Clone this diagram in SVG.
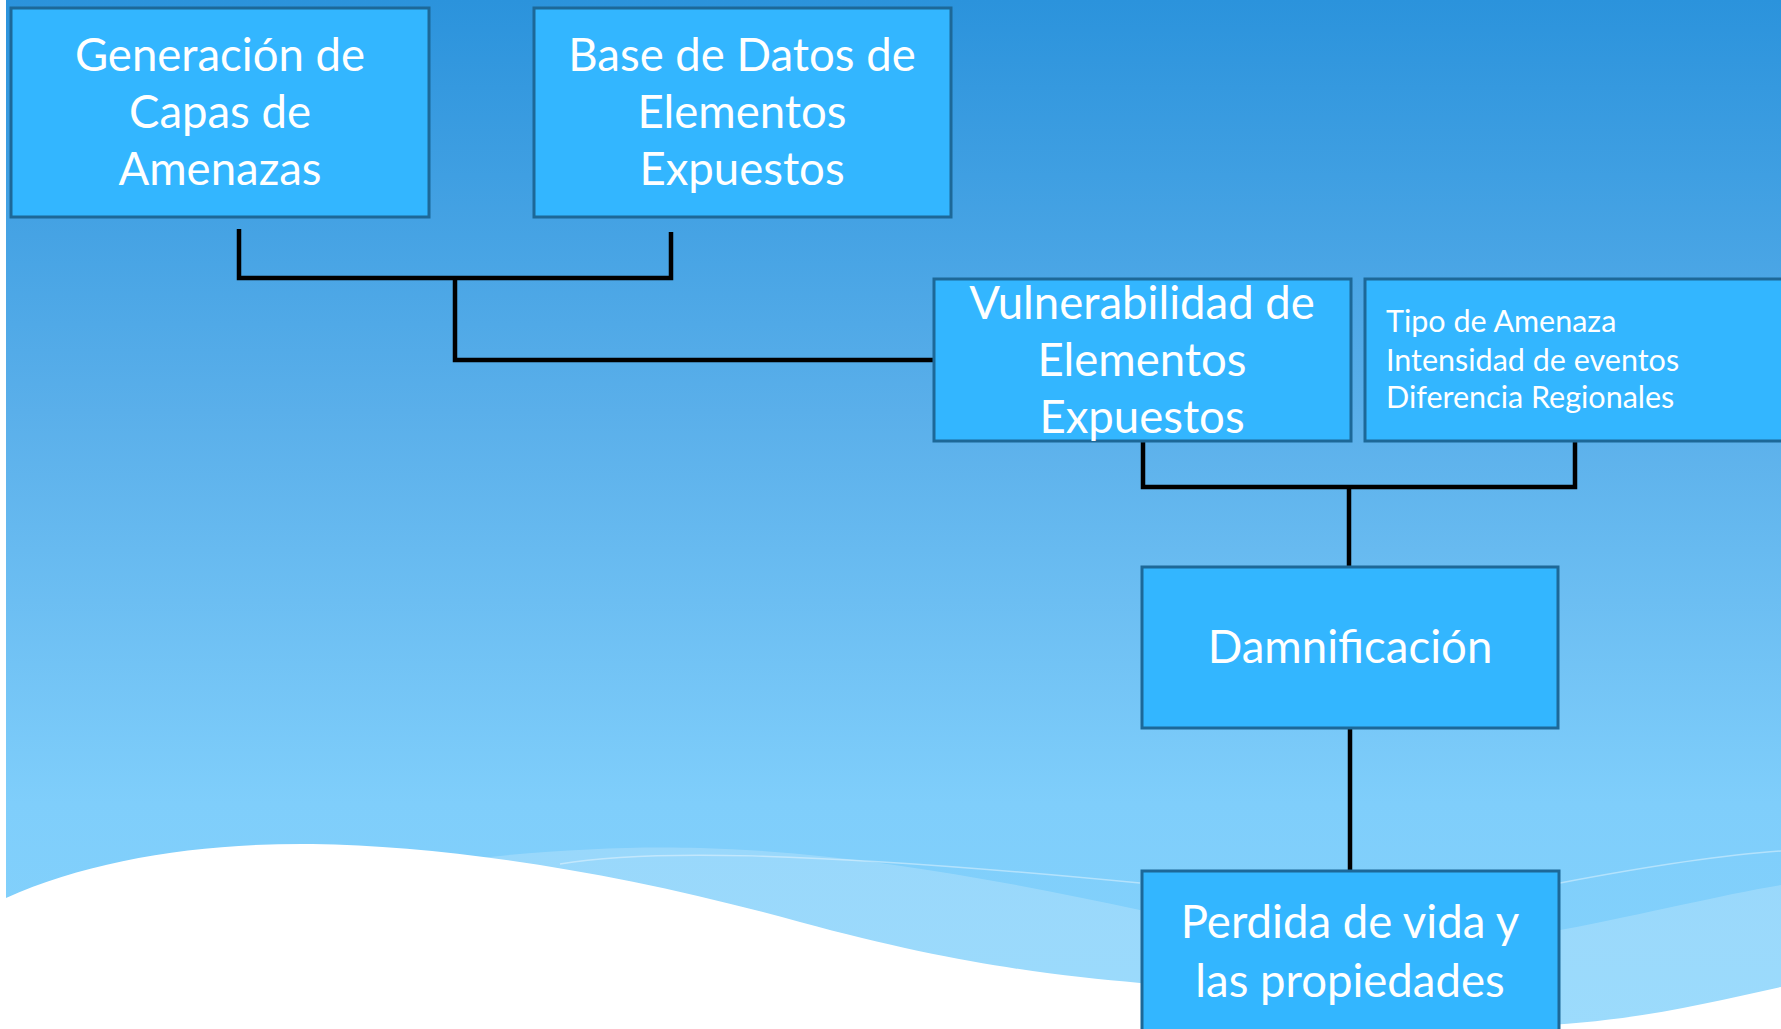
<svg xmlns="http://www.w3.org/2000/svg" width="1781" height="1029" viewBox="0 0 1781 1029">
<style>
.box{fill:#33B6FF;stroke:#1D6898;stroke-width:3}
.big{font-family:Lato,"Open Sans",sans-serif;font-size:45.5px;fill:#FFFFFF;text-anchor:middle}
.small{font-family:Lato,"Open Sans",sans-serif;font-size:30.5px;fill:#FFFFFF}
.conn{fill:none;stroke:#000000;stroke-width:4.5;stroke-linejoin:miter}
</style>
<defs>
<linearGradient id="bg" x1="0" y1="0" x2="0" y2="1">
<stop offset="0" stop-color="#2B93DC"/>
<stop offset="0.4" stop-color="#5AAFEA"/>
<stop offset="0.78" stop-color="#7FCEFB"/>
<stop offset="1" stop-color="#84D2FC"/>
</linearGradient>
</defs>
<rect x="0" y="0" width="1781" height="1029" fill="#FFFFFF"/>
<rect x="6" y="0" width="1775" height="1029" fill="url(#bg)"/>
<g id="waves">
<path d="M480,858 C560,849 640,846 700,848 C850,852 1000,880 1140,910 C1300,945 1450,950 1560,930 C1650,913 1720,895 1781,885 L1781,1029 L480,1029 Z" fill="#FFFFFF" fill-opacity="0.2"/>
<path d="M560,864 C640,850 800,850 1140,883" fill="none" stroke="#FFFFFF" stroke-opacity="0.4" stroke-width="1.5"/>
<path d="M1560,883 C1650,866 1720,855 1781,851" fill="none" stroke="#FFFFFF" stroke-opacity="0.4" stroke-width="1.5"/>
<path d="M0,898 L6,898 C90,860 200,843 312,844 C450,846 620,872 800,922 C950,963 1050,975 1140,983 C1250,995 1400,1028 1520,1026 C1620,1024 1700,1005 1781,987 L1781,1029 L0,1029 Z" fill="#FFFFFF"/>
</g>
<g id="connectors">
<path class="conn" d="M239,229 V278 H671 V232"/>
<path class="conn" d="M455,278 V360 H934"/>
<path class="conn" d="M1143,441 V487 H1575 V441"/>
<path class="conn" d="M1349,487 V567"/>
<path class="conn" d="M1350,728 V871"/>
</g>
<g id="generacion">
<rect class="box" x="11" y="8" width="418" height="209"/>
<text class="big" x="220" y="71">Generación de</text>
<text class="big" x="220" y="128">Capas de</text>
<text class="big" x="220" y="185">Amenazas</text>
</g>
<g id="base-datos">
<rect class="box" x="534" y="8" width="417" height="209"/>
<text class="big" x="742" y="71">Base de Datos de</text>
<text class="big" x="742" y="128">Elementos</text>
<text class="big" x="742" y="185">Expuestos</text>
</g>
<g id="vulnerabilidad">
<rect class="box" x="934" y="279" width="417" height="162"/>
<text class="big" x="1142" y="319">Vulnerabilidad de</text>
<text class="big" x="1142" y="376">Elementos</text>
<text class="big" x="1142" y="433">Expuestos</text>
</g>
<g id="factores">
<rect class="box" x="1365" y="279" width="440" height="162"/>
<text class="small" x="1386" y="332">Tipo de Amenaza</text>
<text class="small" x="1386" y="371">Intensidad de eventos</text>
<text class="small" x="1386" y="408">Diferencia Regionales</text>
</g>
<g id="damnificacion">
<rect class="box" x="1142" y="567" width="416" height="161"/>
<text class="big" x="1350" y="663">Damnificación</text>
</g>
<g id="perdida">
<rect class="box" x="1142" y="871" width="417" height="175"/>
<text class="big" x="1350" y="938">Perdida de vida y</text>
<text class="big" x="1350" y="997">las propiedades</text>
</g>
</svg>
